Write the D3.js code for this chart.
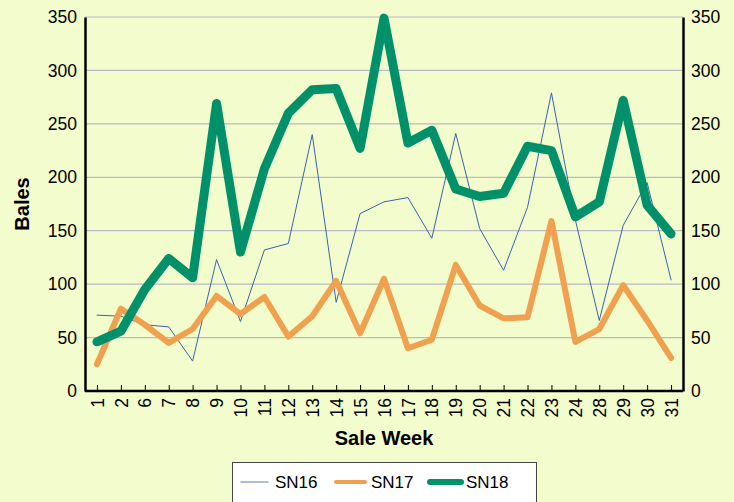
<!DOCTYPE html>
<html><head><meta charset="utf-8">
<script src="https://cdn.jsdelivr.net/npm/d3@7"></script>
<style>
html,body{margin:0;padding:0;background:#F3FCCC;}
svg{display:block;font-family:"Liberation Sans",Arial,sans-serif;}
</style></head>
<body>
<svg id="chart" width="734" height="502"></svg>
<script>
const weeks = ["1","2","6","7","8","9","10","11","12","13","14","15","16","17","18","19","20","21","22","23","24","28","29","30","31"];
const sn16 = [71,70,62,60,28,123,65,132,138,240,83,166,177,181,143,241,152,113,172,279,160,66,155,195,104];
const sn17 = [25,77,62,45,58,89,72,88,51,70,103,54,105,40,48,118,80,68,69,159,46,58,99,66,31];
const sn18 = [46,56,95,124,106,269,130,208,260,282,283,227,349,232,244,189,182,185,229,225,163,177,272,174,147];
const yTicks = [0,50,100,150,200,250,300,350];
const seriesNames = ["SN16","SN17","SN18"];
const colors = ["#3A63AE","#F0A150","#00916B"];
const widths = [1,6,9];
const legendColors = ["#92A9CF","#F0A150","#00916B"];

const svg = d3.select("#chart");
const L = 85, R = 683, T = 17, B = 391;
const x = d3.scalePoint().domain(weeks).range([L, R]).padding(0.5);
const y = d3.scaleLinear().domain([0,350]).range([B, T]);

// gridlines
svg.append("g").selectAll("line").data(yTicks.filter(d=>d>0)).join("line")
  .attr("x1", L).attr("x2", R).attr("y1", d=>y(d)).attr("y2", d=>y(d))
  .attr("stroke", "#B9BAC4").attr("stroke-width", 1.2);

// series
const data = [sn16, sn17, sn18];
const line = d3.line().x((d,i)=>x(weeks[i])).y(d=>y(d));
data.forEach((s,k)=>{
  svg.append("path").datum(s).attr("d", line)
    .attr("fill","none").attr("stroke", colors[k]).attr("stroke-width", widths[k])
    .attr("stroke-linejoin","round").attr("stroke-linecap","round");
});

// left axis
const ya = d3.axisLeft(y).tickValues(yTicks).tickSize(0).tickPadding(8);
const gl = svg.append("g").attr("transform",`translate(${L},0)`).call(ya);
gl.select(".domain").attr("stroke","#000").attr("stroke-width",2.5);
gl.selectAll("text").attr("font-size",17.5).attr("fill","#000").attr("font-family","Liberation Sans, Arial, sans-serif");
const yr = d3.axisRight(y).tickValues(yTicks).tickSize(0).tickPadding(8);
const gr = svg.append("g").attr("transform",`translate(${R},0)`).call(yr);
gr.select(".domain").attr("stroke","#000").attr("stroke-width",2.5);
gr.selectAll("text").attr("font-size",17.5).attr("fill","#000").attr("font-family","Liberation Sans, Arial, sans-serif");

// bottom axis
const xa = d3.axisBottom(x).tickSizeInner(-6).tickSizeOuter(0).tickPadding(0);
const gx = svg.append("g").attr("transform",`translate(0,${B})`).call(xa);
gx.select(".domain").attr("stroke","#000").attr("stroke-width",2.5).attr("d",`M${L},0H${R}`);
gx.selectAll(".tick line").attr("stroke","#000").attr("stroke-width",1);
gx.selectAll("text").attr("font-size",17.5).attr("fill","#000")
  .attr("font-family","Liberation Sans, Arial, sans-serif")
  .attr("transform","rotate(-90)").attr("text-anchor","end")
  .attr("x",-7).attr("y",0).attr("dy","0.35em");

// axis titles
svg.append("text").attr("transform","translate(29,204) rotate(-90)")
  .attr("text-anchor","middle").attr("font-size",20).attr("font-weight","bold").text("Bales");
svg.append("text").attr("x",384).attr("y",445)
  .attr("text-anchor","middle").attr("font-size",20).attr("font-weight","bold").text("Sale Week");

// legend
const lg = svg.append("g");
lg.append("rect").attr("x",232.5).attr("y",462.5).attr("width",304).attr("height",45)
  .attr("fill","#fff").attr("stroke","#444").attr("stroke-width",1);
const lx = [241, 336, 430];
seriesNames.forEach((n,k)=>{
  lg.append("line").attr("x1",lx[k]).attr("x2",lx[k]+(k===0?27:k===1?29:31)).attr("y1",482).attr("y2",482)
    .attr("stroke",legendColors[k]).attr("stroke-width",k===0?1.5:(k===1?4:6)).attr("stroke-linecap","round");
  lg.append("text").attr("x",lx[k]+(k===0?34:k===1?35:36)).attr("y",488).attr("font-size",17).attr("fill","#000").text(n);
});
</script>
</body></html>
